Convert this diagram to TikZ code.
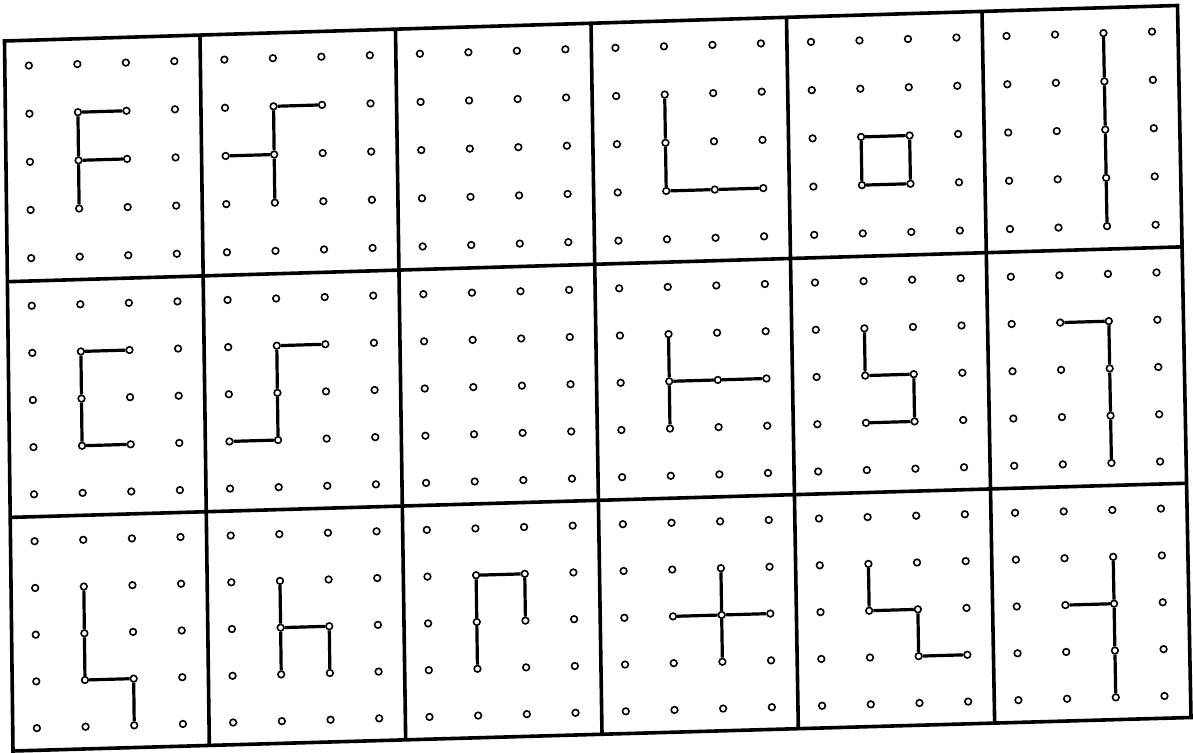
\documentclass[tikz,border=0pt]{standalone}
\usetikzlibrary{calc}
\begin{document}
\begin{tikzpicture}[x=0.5pt,y=-0.5pt,
  frame/.style={line width=1.8pt,line join=miter},
  dot/.style={circle,draw,fill=white,inner sep=0pt,minimum size=3.3pt,line width=0.8pt},
  seg/.style={line width=1.6pt}]
\useasboundingbox (0,0) rectangle (1193,753);
\coordinate (TL) at (4.5,41);
\coordinate (TR) at (1177.5,5.5);
\coordinate (BL) at (13,751);
\coordinate (BR) at (1191,717.5);
% frame
\draw[frame] (TL) -- (TR) -- (BR) -- (BL) -- cycle;
\foreach \c in {1,...,5}{
  \pgfmathsetmacro\U{\c/6}
  \draw[frame] ($(TL)!\U!(TR)$) -- ($(BL)!\U!(BR)$);
}
\foreach \v in {0.339,0.671}{
  \draw[frame] ($(TL)!\v!(BL)$) -- ($(TR)!\v!(BR)$);
}
% dots
\foreach \r/\rt/\rh in {1/0/0.339, 2/0.339/0.332, 3/0.671/0.329}{
  \foreach \c in {1,...,6}{
    \foreach \i in {0,...,3}{
      \foreach \j in {0,...,4}{
        \pgfmathsetmacro\U{(\c-1+0.123+0.248*\i)/6}
        \pgfmathsetmacro\V{\rt+\rh*(0.105+0.2*\j)}
        \node[dot] (d\r\c\i\j) at ($ ($(TL)!\U!(TR)$) ! \V ! ($(BL)!\U!(BR)$) $) {};
      }
    }
  }
}
% row 1
\draw[seg] (d1111) -- (d1121);
\draw[seg] (d1111) -- (d1112) -- (d1113);
\draw[seg] (d1112) -- (d1122);
\draw[seg] (d1221) -- (d1211) -- (d1212) -- (d1213);
\draw[seg] (d1202) -- (d1212);
\draw[seg] (d1411) -- (d1412) -- (d1413) -- (d1423) -- (d1433);
\draw[seg] (d1512) -- (d1522) -- (d1523) -- (d1513) -- (d1512);
\draw[seg] (d1620) -- (d1621) -- (d1622) -- (d1623) -- (d1624);
% row 2
\draw[seg] (d2121) -- (d2111) -- (d2112) -- (d2113) -- (d2123);
\draw[seg] (d2221) -- (d2211) -- (d2212) -- (d2213) -- (d2203);
\draw[seg] (d2411) -- (d2412) -- (d2413);
\draw[seg] (d2412) -- (d2422) -- (d2432);
\draw[seg] (d2511) -- (d2512) -- (d2522) -- (d2523) -- (d2513);
\draw[seg] (d2611) -- (d2621) -- (d2622) -- (d2623) -- (d2624);
% row 3
\draw[seg] (d3111) -- (d3112) -- (d3113) -- (d3123) -- (d3124);
\draw[seg] (d3211) -- (d3212) -- (d3213);
\draw[seg] (d3212) -- (d3222) -- (d3223);
\draw[seg] (d3313) -- (d3312) -- (d3311) -- (d3321) -- (d3322);
\draw[seg] (d3421) -- (d3422) -- (d3423);
\draw[seg] (d3412) -- (d3422) -- (d3432);
\draw[seg] (d3511) -- (d3512) -- (d3522) -- (d3523) -- (d3533);
\draw[seg] (d3621) -- (d3622) -- (d3623) -- (d3624);
\draw[seg] (d3612) -- (d3622);
\end{tikzpicture}
\end{document}
